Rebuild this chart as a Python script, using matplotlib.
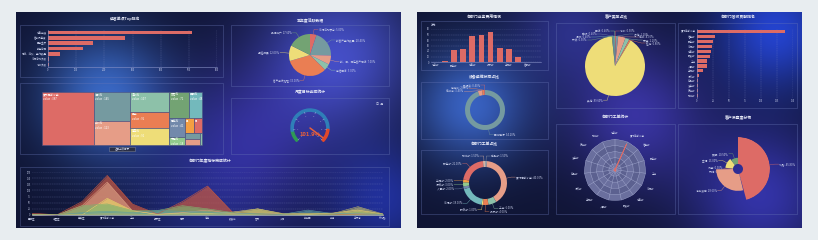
import numpy as np
import matplotlib.pyplot as plt
from matplotlib.patches import Rectangle, Wedge, FancyBboxPatch

plt.rcParams['font.family'] = ['Noto Sans CJK SC', 'DejaVu Sans']

W, H = 818, 240
PAL = ['#dd6b66', '#759aa0', '#e69d87', '#8dc1a9', '#ea7e53', '#eedd78',
       '#73a373', '#73b9bc', '#7289ab', '#91ca8c', '#f49f42']
TXT = '#c9cfea'
TITLE = '#e6e9f7'

# ---------------- 左屏数据 ----------------
rank_names = ['销售业绩', '客户满意度', '回款金额', '新签合同', '拜访、洽谈、签约数量', '市场活动次数', '培训次数']
rank_vals = [513, 272, 159, 123, 44, 5, 2]

active_names = ['市场活动参与', '新客户签约数量', '新、旧、潜在客户拜访', '电话回访', '客户投诉处理', '渠道拓展', '品牌推广']
active_vals = [5.0, 20.4, 7.0, 5.0, 33.0, 12.0, 17.6]

tree_names = ['厦门高新小学', '福州市', '泉州市', '漳州市', '工业', '莆田市', '龙岩市', '三明市',
              '南平市', '宁德市', '平潭', '晋江市', '石狮市', '长乐市', '建阳']
tree_vals = [387, 145, 123, 107, 92, 91, 71, 48, 41, 18, 17, 17, 14, 12, 3]

gauge_val = 101.9
gauge_max = 105
gauge_bands = [(0.13, '#2e9a55'), (0.85, '#2f7fb8'), (1.0, '#e2482a')]

area_cats = ['思明区', '湖里区', '集美区', '厦门高新小学', '工业', '翔安区', '同安', '海沧',
             '鼓浪屿', '杏林', '火炬', '软件园', '前埔', '五缘湾', '环岛路']
area_a = [7, 1, 55, 161, 45, 4, 55, 118, 11, 5, 2, 6, 3, 4, 3]
area_b = [3, 0, 38, 134, 18, 3, 10, 20, 5, 8, 3, 4, 5, 6, 2]
area_c = [2, 0, 0, 68, 18, 2, 8, 6, 12, 25, 6, 3, 8, 20, 4]
area_d = [1, 0, 38, 45, 18, 18, 38, 25, 10, 6, 2, 5, 3, 10, 2]
area_e = [1, 0, 10, 15, 10, 18, 15, 12, 8, 4, 3, 20, 6, 5, 1]
area_f = [2, 0, 3, 5, 4, 2, 3, 3, 6, 25, 4, 5, 6, 34, 4]

# ---------------- 右屏数据 ----------------
fee_names = ['综合部', '人事部', '财务部', '市场部', '销售部', '厦门高新小学', '技术部', '研发部',
             '采购部', '物流部', '客服部', '法务部']
fee_vals = [0.6, 2, 22, 23, 48, 50, 54, 26, 23, 9, 0.5, 0.5]

type_names = ['培训', '咨询', '维修', '安装', '巡检', '其他', '升级', '调试', '验收', '回访']
type_vals = [0.5, 1.2, 4.0, 2.2, 0.8, 89.6, 0.5, 0.4, 0.4, 0.4]

rev_names = ['厦门高新小学', '信息部', '财务部', '市场部', '销售部', '研发部', '工业', '人事部',
             '采购部', '行政部', '后勤部', '法务部', '质检部', '物流部']
rev_vals = [137, 28, 25.6, 23.5, 22.4, 20.8, 16, 15.5, 9.6, 3.7, 2, 2, 1.6, 1]

dev_names = ['正常运行', '维修中', '待检修', '已报废']
dev_vals = [94.2, 3.4, 2.0, 0.4]

order_names = ['后勤部', '厦门高新小学', '工业', '技术部', '研发部', '市场部', '人事部', '行政部',
               '采购部', '财务部', '物流部']
order_vals = [1.5, 40, 6, 4, 1, 18, 2, 3, 2, 21, 1.5]

radar_names = ['综合部', '厦门高新小学', '信息部', '财务部', '工业', '市场部', '销售部', '研发部',
               '人事部', '采购部', '行政部', '后勤部', '法务部', '质检部', '物流部']
radar_vals = [0.3, 9.2, 0.2, 0.3, 0.4, 0.3, 0.2, 0.5, 0.3, 0.2, 0.4, 0.3, 0.2, 0.3, 0.5]
radar_max = 10

rose_names = ['线路', '设备', '消防设施', '网络', '门禁', '空调', '照明']
rose_vals = [45.8, 0.4, 28.6, 0.8, 0.9, 13.0, 10.5]


def rect(x, y, w, h):
    return [x / W, 1 - (y + h) / H, w / W, h / H]


def Y(y):
    return H - y


fig = plt.figure(figsize=(W / 100, H / 100), dpi=100)

# 背景
yy, xx = np.mgrid[0:H, 0:W]
img = np.ones((H, W, 3)) * np.array([0.91, 0.93, 0.945])


def screen(x0, x1, base, glows):
    part = np.ones((H, W, 3)) * np.array(base)
    for cx, cy, s, col in glows:
        g = np.exp(-((xx - cx) ** 2 + (yy - cy) ** 2) / (2 * s * s))
        part += g[..., None] * np.array(col)
    img[12:228, x0:x1] = np.clip(part, 0, 1)[12:228, x0:x1]


screen(16, 401, (0.06, 0.08, 0.20), [(105, 95, 45, (0.16, 0.32, 0.55)),
                                     (340, 55, 55, (0.20, 0.22, 0.55)),
                                     (250, 140, 55, (0.12, 0.08, 0.32)),
                                     (385, 200, 40, (0.06, 0.10, 0.38)),
                                     (200, 215, 60, (0.04, 0.06, 0.20))])
screen(417, 802, (0.06, 0.08, 0.20), [(470, 105, 42, (0.16, 0.30, 0.55)),
                                      (635, 115, 48, (0.16, 0.12, 0.42)),
                                      (775, 30, 42, (0.08, 0.18, 0.60)),
                                      (760, 195, 50, (0.14, 0.12, 0.45)),
                                      (570, 25, 40, (0.10, 0.10, 0.30))])

ov = fig.add_axes([0, 0, 1, 1])
ov.imshow(img, extent=(0, W, 0, H), origin='upper', aspect='auto', zorder=0)

boxes = [(20, 25, 223, 77), (231, 25, 389, 86), (20, 83, 223, 154), (231, 98, 389, 154), (20, 167, 389, 226),
         (421, 21, 548, 70), (556, 23, 675, 108), (678, 23, 797, 108), (421, 82, 548, 139),
         (421, 150, 548, 214), (556, 124, 675, 214), (678, 124, 797, 214)]
for x0, y0, x1, y1 in boxes:
    ov.add_patch(Rectangle((x0, Y(y1)), x1 - x0, y1 - y0, fill=False, ec='#6a78b8', lw=0.4, alpha=0.6))

titles = [('运营单项Top排名', 125, 19), ('本年度活跃数据', 310, 21), ('月度目标达成统计', 310, 92),
          ('各部门年度指标完成统计', 210, 161), ('各部门业务费用情况', 484, 17), ('客户类型占比', 617, 17),
          ('各部门营收贡献排名', 738, 17), ('设备运维状态占比', 484, 77), ('各部门工单占比', 484, 144),
          ('各部门工单统计', 615, 117), ('客户满意度分布', 738, 118)]
for t, x, y in titles:
    ov.text(x, Y(y), t, color=TITLE, fontsize=2.8, fontweight='bold', ha='center', va='center')


def pie_labels(cx, cy, radii, vals, names, colors, reach=5, elbow=4, gap=3.2, fs=1.9):
    vals = np.asarray(vals, float)
    frac = vals / vals.sum()
    mids = np.cumsum(frac) - frac / 2
    radii = np.broadcast_to(np.asarray(radii, float), vals.shape)
    items = []
    for m, f, r, n, c in zip(mids, frac, radii, names, colors):
        a = np.deg2rad(90 - 360 * m)
        items.append((a, r, f'{n}: {f * 100:.2f}%', c))
    for side in (1, -1):
        grp = [it for it in items if (np.cos(it[0]) >= 0) == (side > 0)]
        grp.sort(key=lambda it: -np.sin(it[0]))
        last = None
        for a, r, t, c in grp:
            R = r + reach
            y = cy + R * np.sin(a)
            if last is not None and last - y < gap:
                y = last - gap
            last = y
            x = cx + side * np.sqrt(max(R ** 2 - (y - cy) ** 2, 0))
            x0, y0 = cx + r * np.cos(a), cy + r * np.sin(a)
            ov.plot([x0, x, x + side * elbow], [y0, y, y], color=c, lw=0.3, alpha=0.9)
            ov.text(x + side * (elbow + 0.8), y, t, color=TXT, fontsize=fs,
                    ha='left' if side > 0 else 'right', va='center')


def pie(cx, cy, r, vals, names, colors, inner=None, **kw):
    wp = dict(linewidth=0)
    if inner is not None:
        wp['width'] = r - inner
    ov.pie(vals, colors=colors, startangle=90, counterclock=False, center=(cx, Y(cy)),
           radius=r, wedgeprops=wp)
    pie_labels(cx, Y(cy), r, vals, names, colors, **kw)


# 左：饼图
pie(310, 55, 21, active_vals, active_names, PAL[:7])

# 右：饼图 / 环形图
pie(615, 66, 30, type_vals, type_names, PAL[:10], gap=3.0)
dev_cols = [PAL[1], PAL[2], PAL[4], PAL[0]]
pie(485, 110, 20, dev_vals, dev_names, dev_cols, inner=15)
order_cols = ['#9aa0a8', PAL[2], PAL[3], PAL[4], PAL[5], PAL[7], PAL[8], PAL[9], PAL[10], PAL[0], '#d8b0a0']
pie(485, 183, 22, order_vals, order_names, order_cols, inner=16)


# 矩形树图（squarify，带 ECharts 默认的黄金比例）
def squarify(vals, x, y, w, h, ratio=0.5 * (1 + 5 ** 0.5)):
    areas = [v * w * h / sum(vals) for v in vals]
    out = []

    def worst(row, side):
        s = sum(row)
        f = side * side * ratio
        return max(f * max(row) / (s * s), s * s / (f * min(row)))

    i = 0
    while i < len(areas):
        side = min(w, h)
        row = [areas[i]]
        i += 1
        while i < len(areas) and worst(row + [areas[i]], side) <= worst(row, side):
            row.append(areas[i])
            i += 1
        s = sum(row)
        if w >= h:
            cw = s / h
            cy = y
            for a in row:
                out.append((x, cy, cw, a / cw))
                cy += a / cw
            x += cw
            w -= cw
        else:
            rh = s / w
            cx = x
            for a in row:
                out.append((cx, y, a / rh, rh))
                cx += a / rh
            y += rh
            h -= rh
    return out


for k, ((x, y, w, h), n, v) in enumerate(zip(squarify(tree_vals, 42, 92, 160, 53), tree_names, tree_vals)):
    p = Rectangle((x, Y(y + h)), w, h, fc=PAL[k % len(PAL)], ec='#4a5080', lw=0.4)
    ov.add_patch(p)
    if w > 12 and h > 8:
        for dy, t in ((2.5, n), (7.5, f'value : {v}')):
            tx = ov.text(x + 1.2, Y(y + dy), t, color='white', fontsize=2.0, va='center')
            tx.set_clip_path(p)
    elif w > 6 and h > 8:
        ov.text(x + 1.0, Y(y + 2.5), n[0] + '…', color='white', fontsize=1.6, va='center')
ov.add_patch(FancyBboxPatch((110, Y(151.5)), 25, 4, boxstyle='round,pad=0.3', fc='#2a2f45', ec='#8a90a8', lw=0.3))
ov.text(122.5, Y(149.5), '返回上级目录', color=TXT, fontsize=1.8, ha='center', va='center')

# 仪表盘
gcx, gcy, gr = 310, Y(128), 19
prev = 0
for frac, c in gauge_bands:
    ov.add_patch(Wedge((gcx, gcy), gr, 225 - 270 * frac, 225 - 270 * prev, width=2.2, color=c))
    prev = frac
for v in range(0, gauge_max + 1, 15):
    a = np.deg2rad(225 - 270 * v / gauge_max)
    ov.plot([gcx + (gr - 2.2) * np.cos(a), gcx + (gr - 4) * np.cos(a)],
            [gcy + (gr - 2.2) * np.sin(a), gcy + (gr - 4) * np.sin(a)], color='#b0b8e0', lw=0.3)
    ov.text(gcx + (gr - 6.5) * np.cos(a), gcy + (gr - 6.5) * np.sin(a), str(v), color='#8f98c8',
            fontsize=1.5, ha='center', va='center')
a = np.deg2rad(225 - 270 * gauge_val / gauge_max)
ov.plot([gcx, gcx + (gr - 3) * np.cos(a)], [gcy, gcy + (gr - 3) * np.sin(a)], color='#e8603a', lw=1.1,
        solid_capstyle='round')
ov.text(gcx, gcy - 7, f'{gauge_val}%', color='#e8603a', fontsize=4.2, fontweight='bold', ha='center', va='center')
ov.text(380, Y(104), '日  月', color=TXT, fontsize=2.2, ha='center', va='center')

ov.set_xlim(0, W)
ov.set_ylim(0, H)
ov.set_aspect('auto')
ov.axis('off')


def style(ax):
    ax.set_facecolor('none')
    for s in ax.spines.values():
        s.set_visible(False)
    ax.tick_params(colors=TXT, labelsize=1.8, length=0, pad=1)


# 左：横向条形图
ax1 = fig.add_axes(rect(48, 30, 169, 37))
style(ax1)
yi = np.arange(len(rank_vals))
ax1.barh(yi, rank_vals, height=0.65, color=PAL[0])
ax1.set_ylim(len(rank_vals) - 0.5, -0.5)
ax1.set_xlim(0, 600)
ax1.set_xticks(range(0, 601, 100))
ax1.set_yticks(yi, rank_names)
ax1.grid(axis='x', ls='--', lw=0.3, color='#8a93c8', alpha=0.5)
ax1.spines['bottom'].set_visible(True)
ax1.spines['left'].set_visible(True)
ax1.spines['bottom'].set(color='#8a93c8', lw=0.4)
ax1.spines['left'].set(color='#8a93c8', lw=0.4)
ax1.set_axisbelow(True)

# 左：面积图
ax2 = fig.add_axes(rect(32, 172, 351, 43))
style(ax2)
xi = np.arange(len(area_cats))
for vals, c in zip([area_a, area_b, area_c, area_d, area_e, area_f],
                   ['#c9583f', '#d99a80', '#e8d36a', '#7fb26e', '#5f9ea0', '#b8b46a']):
    ax2.fill_between(xi, vals, color=c, alpha=0.7, lw=0)
    ax2.plot(xi, vals, color=c, lw=0.4)
ax2.set_xlim(0, len(area_cats) - 1)
ax2.set_ylim(0, 175)
ax2.set_yticks(range(0, 176, 25))
ax2.set_xticks(xi, area_cats)
ax2.grid(axis='y', ls='--', lw=0.3, color='#8a93c8', alpha=0.5)
ax2.spines['bottom'].set_visible(True)
ax2.spines['bottom'].set(color='#8a93c8', lw=0.4)
ax2.set_axisbelow(True)

# 右：柱状图
ax3 = fig.add_axes(rect(431, 29, 110, 33))
style(ax3)
xb = np.arange(len(fee_vals))
ax3.bar(xb, fee_vals, width=0.63, color=PAL[0])
ax3.set_xlim(-0.5, len(fee_vals) - 0.5)
ax3.set_ylim(0, 60)
ax3.set_yticks(range(0, 61, 10))
ax3.set_xticks(xb[::2], fee_names[::2])
ax3.grid(axis='y', ls='--', lw=0.3, color='#8a93c8', alpha=0.5)
ax3.spines['bottom'].set_visible(True)
ax3.spines['bottom'].set(color='#8a93c8', lw=0.4)
ax3.set_axisbelow(True)
ax3.text(0, 1.12, '万元', transform=ax3.transAxes, color=TXT, fontsize=1.9, va='center')

# 右：横向条形图
ax4 = fig.add_axes(rect(697, 29, 96, 69))
style(ax4)
yr = np.arange(len(rev_vals))
ax4.barh(yr, rev_vals, height=0.65, color=PAL[0])
ax4.set_ylim(len(rev_vals) - 0.5, -0.5)
ax4.set_xlim(0, 150)
ax4.set_xticks(range(0, 151, 25))
ax4.set_yticks(yr, rev_names)
ax4.grid(axis='x', ls='--', lw=0.3, color='#8a93c8', alpha=0.5)
ax4.spines['left'].set_visible(True)
ax4.spines['left'].set(color='#8a93c8', lw=0.4)
ax4.set_axisbelow(True)

# 右：雷达图
axr = fig.add_axes(rect(584, 139, 62, 62), projection='polar')
axr.set_theta_zero_location('N')
axr.set_theta_direction(-1)
n = len(radar_names)
ang = np.arange(n + 1) * 2 * np.pi / n
for k in range(5, 0, -1):
    axr.fill(ang, np.full(n + 1, radar_max * k / 5), color='#6a6f9e' if k % 2 else '#5c6190', lw=0)
    axr.plot(ang, np.full(n + 1, radar_max * k / 5), color='#a4aad0', lw=0.3)
for a in ang[:-1]:
    axr.plot([a, a], [0, radar_max], color='#a4aad0', lw=0.3)
rv = list(radar_vals) + [radar_vals[0]]
axr.plot(ang, rv, color=PAL[0], lw=0.5)
for a, t in zip(ang[:-1], radar_names):
    s = np.sin(a)
    axr.text(a, radar_max * 1.2, t, color=TXT, fontsize=1.8, va='center',
             ha='center' if abs(s) < 0.2 else ('left' if s > 0 else 'right'))
axr.set_ylim(0, radar_max)
axr.axis('off')

# 右：南丁格尔玫瑰图
R0, R1 = 5, 32
axp = fig.add_axes(rect(738 - R1, 169 - R1, 2 * R1, 2 * R1), projection='polar')
axp.set_theta_zero_location('N')
axp.set_theta_direction(-1)
rv = np.asarray(rose_vals, float)
wd = rv / rv.sum() * 2 * np.pi
st = np.cumsum(wd) - wd
ht = (R1 - R0) * rv / rv.max()
axp.bar(st, ht, width=wd, bottom=R0, align='edge', color=PAL[:len(rv)], lw=0)
axp.set_ylim(0, R1)
axp.axis('off')
pie_labels(738, Y(169), R0 + ht, rose_vals, rose_names, PAL[:len(rv)], reach=5, gap=3.2)

fig.savefig('out.png', dpi=100)
